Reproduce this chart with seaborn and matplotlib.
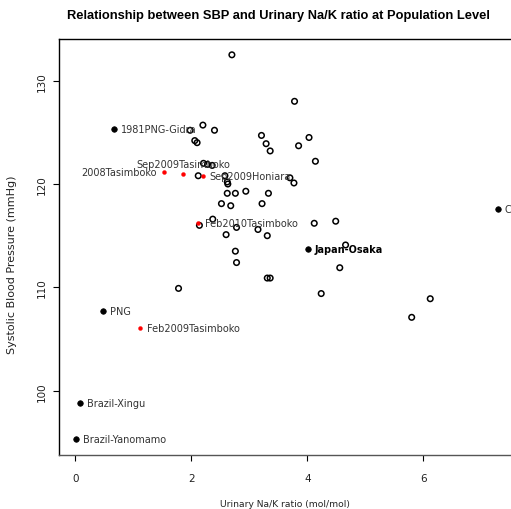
import matplotlib
matplotlib.use("Agg")
import matplotlib.pyplot as plt
import seaborn as sns
import pandas as pd

# Open circles: other populations (no labels)
other_x = [2.70, 3.78, 2.20, 1.98, 2.40, 2.06, 2.10, 3.21, 3.29, 3.36, 3.85, 4.03,
           4.14, 2.21, 2.28, 2.36, 2.12, 2.58, 2.62, 2.63, 3.70, 3.77, 2.62, 2.76,
           2.94, 3.33, 2.52, 2.68, 3.22, 2.37, 2.14, 2.78, 3.15, 4.12, 4.49, 2.60,
           3.31, 4.66, 2.76, 2.78, 4.56, 3.31, 3.36, 1.78, 4.24, 6.12, 5.80]
other_y = [132.5, 128.0, 125.7, 125.2, 125.2, 124.2, 124.0, 124.7, 123.9, 123.2, 123.7, 124.5,
           122.2, 122.0, 121.9, 121.8, 120.8, 120.8, 120.2, 120.0, 120.6, 120.1, 119.1, 119.1,
           119.3, 119.1, 118.1, 117.9, 118.1, 116.6, 116.0, 115.8, 115.6, 116.2, 116.4, 115.1,
           115.0, 114.1, 113.5, 112.4, 111.9, 110.9, 110.9, 109.9, 109.4, 108.9, 107.1]

# Filled black: named reference populations
ref_names = ["1981PNG-Gidra", "PNG", "Brazil-Xingu", "Brazil-Yanomamo", "Japan-Osaka", "China"]
ref_x = [0.67, 0.47, 0.08, 0.01, 4.01, 7.28]
ref_y = [125.3, 107.7, 98.8, 95.3, 113.7, 117.6]

# Red: Solomon Islands surveys
sol_names = ["2008Tasimboko", "Sep2009Tasimboko", "Sep2009Honiara", "Feb2010Tasimboko", "Feb2009Tasimboko"]
sol_x = [1.53, 1.86, 2.20, 2.12, 1.12]
sol_y = [121.2, 121.0, 120.8, 116.2, 106.1]
sol_pos = ["left", "above", "right", "right", "right"]

W, H = 511, 510
fig = plt.figure(figsize=(W / 100, H / 100), dpi=100)
sns.set_style("white")
plt.rcParams["font.family"] = ["DejaVu Sans"]

ax = fig.add_axes([59 / W, 1 - 456 / H, 471 / W, 416 / H])

df_other = pd.DataFrame({"x": other_x, "y": other_y})
df_ref = pd.DataFrame({"x": ref_x, "y": ref_y, "name": ref_names})
df_sol = pd.DataFrame({"x": sol_x, "y": sol_y, "name": sol_names})

sns.scatterplot(data=df_other, x="x", y="y", ax=ax, marker="o", s=16,
                facecolor="none", edgecolor="black", linewidth=1.1)
sns.scatterplot(data=df_ref, x="x", y="y", ax=ax, marker="o", s=16,
                color="black", edgecolor="black", linewidth=0.5)
sns.scatterplot(data=df_sol, x="x", y="y", ax=ax, marker="o", s=8,
                color="#ff0000", edgecolor="#ff0000", linewidth=0.3)

lab_kw = dict(fontsize=7, color="#333333")
for nm, x, y in zip(ref_names, ref_x, ref_y):
    if nm == "Japan-Osaka":
        ax.annotate(nm, (x, y), xytext=(5, 0), textcoords="offset points",
                    ha="left", va="center", fontsize=7, color="black", weight="bold")
    else:
        ax.annotate(nm, (x, y), xytext=(5, 0), textcoords="offset points",
                    ha="left", va="center", **lab_kw)
for nm, x, y, p in zip(sol_names, sol_x, sol_y, sol_pos):
    if p == "left":
        ax.annotate(nm, (x, y), xytext=(-5, 0), textcoords="offset points",
                    ha="right", va="center", **lab_kw)
    elif p == "above":
        ax.annotate(nm, (x, y), xytext=(0, 3.5), textcoords="offset points",
                    ha="center", va="bottom", **lab_kw)
    else:
        ax.annotate(nm, (x, y), xytext=(5, 0), textcoords="offset points",
                    ha="left", va="center", **lab_kw)

ax.set_xlim(-0.281, 7.84)
ax.set_ylim(93.78, 134.03)
ax.set_xticks([0, 2, 4, 6])
ax.set_yticks([100, 110, 120, 130])
ax.tick_params(axis="both", direction="out", length=4.5, width=0.8, color="black",
               labelsize=7.5, labelcolor="#222222", bottom=True, left=True)
ax.tick_params(axis="x", pad=8.5)
ax.tick_params(axis="y", pad=4.5)
for lbl in ax.get_yticklabels():
    lbl.set_rotation(90)
    lbl.set_va("center")
for sp in ax.spines.values():
    sp.set_visible(True)
    sp.set_color("black")
    sp.set_linewidth(1.0)
ax.spines["bottom"].set_color("#555555")

ax.set_xlabel("")
ax.set_ylabel("")
fig.text(285 / W, 1 - 505 / H, "Urinary Na/K ratio (mol/mol)", ha="center", va="center",
         fontsize=6.6, color="#222222")
fig.text(12 / W, 1 - 265 / H, "Systolic Blood Pressure (mmHg)", ha="center", va="center",
         rotation=90, fontsize=8, color="#222222")
fig.text(278 / W, 1 - 16 / H,
         "Relationship between SBP and Urinary Na/K ratio at Population Level",
         ha="center", va="center", fontsize=9.3, weight="bold", color="black",
         family=["Liberation Sans", "DejaVu Sans"])

fig.savefig("out.png", dpi=100, facecolor="white")
